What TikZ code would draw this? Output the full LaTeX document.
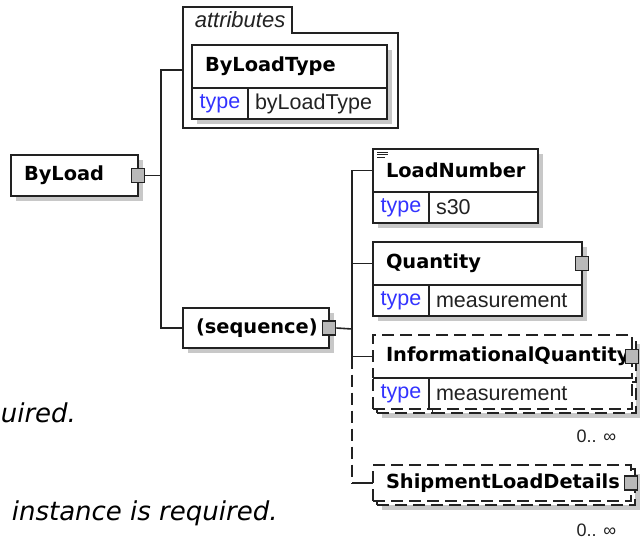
\documentclass[tikz,border=0pt]{standalone}
\usepackage{fontspec}
\setmainfont{Liberation Sans}
\newfontfamily\namefont{DejaVu Sans}
\usetikzlibrary{shadows,calc}
\definecolor{typeblue}{RGB}{51,51,255}
\definecolor{linegray}{RGB}{34,34,34}
\definecolor{shadowgray}{RGB}{200,200,200}
\definecolor{pluggray}{RGB}{185,185,185}

\begin{document}
\begin{tikzpicture}[x=1pt, y=-1pt, line width=1.6pt, color=linegray]
        \tikzstyle{cell}=[draw, rectangle, fill=white, anchor=north west, outer sep=0pt];
        \tikzstyle{shd}=[drop shadow={shadow xshift=5pt, shadow yshift=-5pt, draw=none, fill=shadowgray, opacity=1}];
        \tikzstyle{optshd}=[dash pattern=on 12pt off 6pt,
            drop shadow={shadow xshift=9pt, shadow yshift=-9pt, draw=none, fill=shadowgray, opacity=1},
            copy shadow={shadow xshift=4pt, shadow yshift=-4pt, draw=linegray, fill=white, dash pattern=on 12pt off 6pt}];
        \tikzstyle{elem}=[cell, inner xsep=13pt, minimum height=43pt, align=left, text=black, font=\namefont\fontsize{19.4}{23}\selectfont\bfseries];
        \tikzstyle{typekey}=[cell, minimum width=56pt, minimum height=31pt, inner sep=0pt, text=typeblue, font=\fontsize{21.5}{25}\selectfont];
        \tikzstyle{typeval}=[cell, minimum height=31pt, inner xsep=7pt, align=left, font=\fontsize{21.5}{25}\selectfont];
        \tikzstyle{plug}=[draw, rectangle, fill=pluggray, minimum width=13pt, minimum height=14pt, inner sep=0pt];
        \tikzstyle{mult}=[anchor=east, inner sep=0pt, font=\fontsize{18}{20}\selectfont];
        \tikzstyle{note}=[anchor=west, inner sep=0pt, text=black, font=\namefont\itshape\fontsize{26}{30}\selectfont];

        \useasboundingbox (0,0) rectangle (640,540);

        \node[elem, shd, minimum height=41pt, minimum width=127pt, text width=101pt] (byload) at (11,155) {ByLoad};
        \node[plug] (byloadp) at (byload.east) {};

        \draw (183,128) -- (183,7) -- (292,7) -- (292,33) -- (398,33) -- (398,128) -- cycle;
        \node[anchor=west, inner sep=0pt, font=\itshape\fontsize{22}{26}\selectfont] (attrlbl) at (194,20) {attributes};
        \node[elem, shd, minimum width=195pt, text width=169pt] (blt) at (192,45) {ByLoadType};
        \node[typekey, shd] (bltk) at (blt.south west) {type};
        \node[typeval, shd, minimum width=139pt, text width=125pt] (bltv) at (bltk.north east) {byLoadType};

        \node[elem, shd, minimum height=40pt, minimum width=146pt, text width=120pt] (seq) at (183,308) {(sequence)};
        \node[plug] (seqp) at (seq.east) {};

        \node[elem, shd, minimum width=165pt, text width=139pt] (lnum) at (373,149) {LoadNumber};
        \node[typekey, shd] (lnumk) at (lnum.south west) {type};
        \node[typeval, shd, minimum width=109pt, text width=95pt] (lnumv) at (lnumk.north east) {s30};
        \foreach \dy/\len in {3.5/11, 5.7/11, 7.9/8}
            \draw[line width=0.7pt] ($(lnum.north west)+(4,\dy)$) -- ++(\len,0);

        \node[elem, shd, minimum width=209pt, text width=183pt] (qty) at (373,242) {Quantity};
        \node[typekey, shd] (qtyk) at (qty.south west) {type};
        \node[typeval, shd, minimum width=153pt, text width=139pt] (qtyv) at (qtyk.north east) {measurement};
        \node[plug] (qtyp) at (qty.east) {};

        \node[elem, optshd, minimum width=259pt, text width=233pt] (iq) at (373,335) {InformationalQuantity};
        \node[typekey, optshd] (iqk) at (iq.south west) {type};
        \node[typeval, optshd, minimum width=203pt, text width=189pt] (iqv) at (iqk.north east) {measurement};
        \draw (iqk.north west) -- (iqv.north east);
        \draw (iqk.north east) -- (iqk.south east);
        \node[plug] (iqp) at (iq.east) {};
        \node[mult] (iqm) at (617,436) {0.. ∞};

        \node[elem, optshd, minimum height=36pt, minimum width=258pt, text width=232pt] (sld) at (373,465) {ShipmentLoadDetails};
        \node[plug] (sldp) at (sld.east) {};
        \node[mult] (sldm) at (617,530) {0.. ∞};

        \node[note] (note1) at (0,413) {uired.};
        \node[note] (note2) at (11,513) {instance is required.};

        \coordinate (bus1) at (161,70);
        \coordinate (attrin) at (183,70);
        \coordinate (bus2) at (352,329);

        \draw (byloadp.east) -- (byloadp.east -| bus1);
        \draw (attrin) -- (bus1) |- (seq.west);
        \draw (seqp.east) -- (bus2);
        \draw (lnum.west) -| (bus2) |- (iq.west);
        \draw (qty.west) -- (qty.west -| bus2);
        \draw[dash pattern=on 12pt off 6pt] (iq.west -| bus2) -- (sld.west -| bus2);
        \draw (sld.west -| bus2) -- (sld.west);
    \end{tikzpicture}
\end{document}
